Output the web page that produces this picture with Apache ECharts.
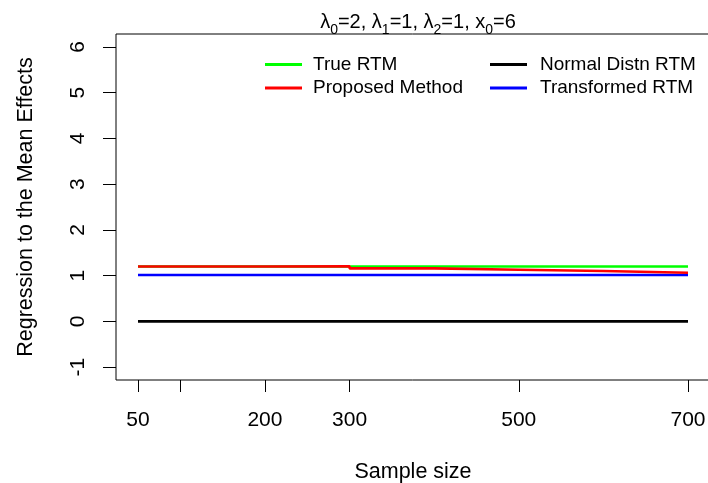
<!DOCTYPE html>
<html><head><meta charset="utf-8">
<script src="https://cdn.jsdelivr.net/npm/echarts@6/dist/echarts.min.js"></script>
<style>html,body{margin:0;padding:0;background:#fff}#c{width:708px;height:483px}</style>
</head><body><div id="c"></div>
<script>
const sampleSizes = [50, 100, 200, 300, 400, 500, 600, 700];
const trueRTM     = [1.2, 1.2, 1.2, 1.2, 1.2, 1.2, 1.2, 1.2];
const proposed    = [1.2, 1.2, 1.205, 1.16, 1.13, 1.1, 1.065, 1.065];
const normalRTM   = [0, 0, 0, 0, 0, 0, 0, 0];
const transformed = [1.015, 1.015, 1.015, 1.015, 1.015, 1.015, 1.015, 1.015];
const xTicks = [50, 100, 200, 300, 500, 700];
const xLabels = [50, 200, 300, 500, 700];
const yTicks = [-1, 0, 1, 2, 3, 4, 5, 6];

const font = 'Liberation Sans, Arial, sans-serif';
const pairs = arr => sampleSizes.map((x, i) => [x, arr[i]]);
const mk = (name, arr, color, z) => ({
  name, type: 'line', step: 'end', data: pairs(arr), showSymbol: false, symbol: 'none',
  lineStyle: { color, width: 2.6 }, itemStyle: { color }, z, animation: false
});

const chart = echarts.init(document.getElementById('c'), null, { renderer: 'canvas' });
chart.setOption({
  animation: false,
  backgroundColor: '#fff',
  title: {
    text: '{n|λ}{s|0}{n|=2, λ}{s|1}{n|=1, λ}{s|2}{n|=1, x}{s|0}{n|=6}',
    left: 413, top: 3, textAlign: 'center',
    textStyle: {
      fontWeight: 'normal',
      rich: {
        n: { fontFamily: font, fontSize: 20, fontWeight: 'normal', color: '#000', lineHeight: 24, verticalAlign: 'bottom' },
        s: { fontFamily: font, fontSize: 14, fontWeight: 'normal', color: '#000', lineHeight: 24, verticalAlign: 'bottom', padding: [0, 0, -5, 0] }
      }
    }
  },
  grid: { left: 116, right: -2, top: 34, bottom: 103, containLabel: false, outerBoundsMode: 'none',
          show: true, borderColor: '#000', borderWidth: 1, backgroundColor: 'transparent' },
  legend: [
    { data: ['True RTM', 'Proposed Method'], orient: 'vertical', left: 260, top: 50, itemGap: 4.5, itemWidth: 37, itemHeight: 3,
      icon: 'rect', textStyle: { fontFamily: font, fontSize: 19, color: '#000', padding: [0, 0, 0, 6] }, itemStyle: { borderWidth: 0 } },
    { data: ['Normal Distn RTM', 'Transformed RTM'], orient: 'vertical', left: 485, top: 50, itemGap: 4.5, itemWidth: 37, itemHeight: 3,
      icon: 'rect', textStyle: { fontFamily: font, fontSize: 19, color: '#000', padding: [0, 0, 0, 8] }, itemStyle: { borderWidth: 0 } }
  ],
  xAxis: {
    type: 'value', min: 24, max: 726,
    name: 'Sample size', nameLocation: 'middle', nameGap: 81,
    nameTextStyle: { fontFamily: font, fontSize: 21.5, color: '#000' },
    axisLine: { show: false, onZero: false },
    axisTick: { show: true, inside: false, length: 12, customValues: xTicks, lineStyle: { color: '#000', width: 1 } },
    axisLabel: { customValues: xLabels, margin: 30, fontFamily: font, fontSize: 21, color: '#000' },
    splitLine: { show: false }
  },
  yAxis: {
    type: 'value', min: -1.28, max: 6.28,
    name: 'Regression to the Mean Effects', nameLocation: 'middle', nameGap: 79, nameRotate: 90,
    nameTextStyle: { fontFamily: font, fontSize: 21.5, color: '#000' },
    axisLine: { show: false, onZero: false },
    axisTick: { show: true, inside: false, length: 13, customValues: yTicks, lineStyle: { color: '#000', width: 1 } },
    axisLabel: { customValues: yTicks, rotate: 90, margin: 27, fontFamily: font, fontSize: 21, color: '#000' },
    splitLine: { show: false }
  },
  series: [
    mk('True RTM', trueRTM, '#00FF00', 2),
    mk('Normal Distn RTM', normalRTM, '#000000', 3),
    mk('Transformed RTM', transformed, '#0000FF', 4),
    mk('Proposed Method', proposed, '#FF0000', 5)
  ]
});
</script></body></html>
